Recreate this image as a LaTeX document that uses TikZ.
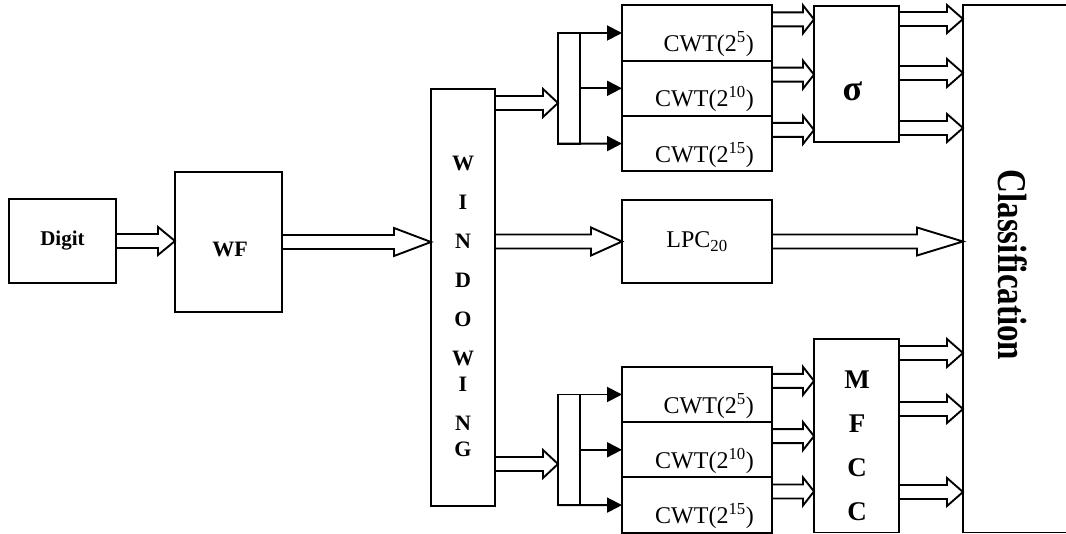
\documentclass[tikz,border=0pt]{standalone}
\usepackage{fontspec}
\setmainfont{Liberation Serif}
\usepackage{graphicx}
\usepackage{tikz}
\usetikzlibrary{calc,positioning,arrows.meta}

% hollow block arrow: y taken from #2, x of the tip from #3, #1 = head length
\newcommand{\fatarrow}[3][16]{%
  \draw[fat] let \p1=#2, \p2=#3 in
    (\x1,\y1+7pt) -- (\x2-#1pt,\y1+7pt) -- (\x2-#1pt,\y1+14pt) -- (\x2,\y1)
    -- (\x2-#1pt,\y1-14pt) -- (\x2-#1pt,\y1-7pt) -- (\x1,\y1-7pt);}

\begin{document}
\begin{tikzpicture}[
  x=1pt, y=-1pt,
  block/.style={draw, line width=1.9pt, inner sep=0pt, outer sep=0pt},
  cwtbox/.style={block, minimum width=150pt, minimum height=55.3pt},
  splitbox/.style={block, minimum width=22pt, minimum height=110.6pt},
  fat/.style={line width=1.9pt, line join=miter},
  branch/.style={-{Triangle[length=15pt,width=15pt]}, line width=1.9pt},
  bold/.style={font=\bfseries\fontsize{#1}{#1}\selectfont},
  cwtlabel/.style={anchor=base east, inner sep=0pt, font=\fontsize{24}{28}\selectfont}
]
\useasboundingbox (0,0) rectangle (1066,534);
\clip (0,0) rectangle (1066,534);

\node[block, minimum width=107pt, minimum height=84pt, bold=21] (digit) at (62.5,241) {Digit};
\node[block, minimum width=107pt, minimum height=140pt] (wf) at (228.5,242) {};
\node[bold=22] (wftxt) at ($(wf)+(1.5,7.5)$) {WF};

\node[block, minimum width=64pt, minimum height=417pt] (win) at (463,297.5) {};
\node[font=\bfseries\fontsize{22}{39}\selectfont, align=center, anchor=north, inner sep=0pt]
  (wintxt) at (463,156) {W\\I\\N\\D\\O\\W\\[-13pt]I\\N\\[-13pt]G};

% upper branch
\node[splitbox] (splitA) at (569,88.3) {};
\node[cwtbox] (cwt1) at (697,33) {};
\node[cwtbox, below=0pt of cwt1] (cwt2) {};
\node[cwtbox, below=0pt of cwt2] (cwt3) {};
\node[cwtlabel] (t1) at ($(cwt1.south east)+(-18,-9)$) {CWT(2\textsuperscript{5})};
\node[cwtlabel] (t2) at ($(cwt2.south east)+(-18,-9)$) {CWT(2\textsuperscript{10})};
\node[cwtlabel] (t3) at ($(cwt3.south east)+(-18,-9)$) {CWT(2\textsuperscript{15})};

% middle branch
\node[block, minimum width=150pt, minimum height=83pt, font=\fontsize{24}{28}\selectfont] (lpc) at (697,241.5) {LPC\textsubscript{20}};

% lower branch
\node[splitbox] (splitB) at (569,449.8) {};
\node[cwtbox] (cwt4) at (697,394.5) {};
\node[cwtbox, below=0pt of cwt4] (cwt5) {};
\node[cwtbox, below=0pt of cwt5] (cwt6) {};
\node[cwtlabel] (t4) at ($(cwt4.south east)+(-18,-9)$) {CWT(2\textsuperscript{5})};
\node[cwtlabel] (t5) at ($(cwt5.south east)+(-18,-9)$) {CWT(2\textsuperscript{10})};
\node[cwtlabel] (t6) at ($(cwt6.south east)+(-18,-9)$) {CWT(2\textsuperscript{15})};

\node[block, minimum width=85pt, minimum height=136pt] (sigma) at (856.5,74) {};
\node[bold=36] (sigtxt) at ($(sigma)+(-4,17)$) {σ};
\node[block, minimum width=85pt, minimum height=193.5pt] (mfcc) at (856.5,435.75) {};
\node[font=\bfseries\fontsize{27}{44}\selectfont, align=center, anchor=north, inner sep=0pt]
  (mfcctxt) at (857,371) {M\\F\\C\\C};

\node[block, minimum width=117pt, minimum height=527.5pt] (class) at (1021.5,268.75) {};
\node[rotate=-90, bold=33] (classtxt) at (1013,265) {\scalebox{1}[1.24]{Classification}};

% connectors
\draw[branch] (splitA.north west) -- (cwt1.west);
\draw[branch] (splitA.east) -- (splitA.east -| cwt2.west);
\draw[branch] (splitA.south west) -- (cwt3.west);
\draw[branch] (splitB.north west) -- (cwt4.west);
\draw[branch] (splitB.east) -- (splitB.east -| cwt5.west);
\draw[branch] (splitB.south west) -- (cwt6.west);

\fatarrow[17]{(digit.east)}{(wf.west)}
\fatarrow[37]{(wf.east)}{(win.west)}
\fatarrow[15]{($(win.north east)+(0,14)$)}{(splitA.west)}
\fatarrow[31]{(win.east |- lpc.west)}{(lpc.west)}
\fatarrow[15]{($(win.south east)+(0,-42)$)}{(splitB.west)}
\fatarrow[46]{(lpc.east)}{(class.west)}

\fatarrow[11]{($(cwt1.north east)+(0,14)$)}{(sigma.west)}
\fatarrow[11]{($(cwt2.north east)+(0,14)$)}{(sigma.west)}
\fatarrow[11]{($(cwt3.north east)+(0,14)$)}{(sigma.west)}
\fatarrow{($(sigma.north east)+(0,13)$)}{(class.west)}
\fatarrow{($(sigma.north east)+(0,67)$)}{(class.west)}
\fatarrow{($(sigma.north east)+(0,122)$)}{(class.west)}

\fatarrow[11]{($(cwt4.north east)+(0,14)$)}{(mfcc.west)}
\fatarrow[11]{($(cwt5.north east)+(0,14)$)}{(mfcc.west)}
\fatarrow[11]{($(cwt6.north east)+(0,14)$)}{(mfcc.west)}
\fatarrow{($(mfcc.north east)+(0,14)$)}{(class.west)}
\fatarrow{($(mfcc.north east)+(0,70)$)}{(class.west)}
\fatarrow{($(mfcc.north east)+(0,153)$)}{(class.west)}
\end{tikzpicture}
\end{document}
